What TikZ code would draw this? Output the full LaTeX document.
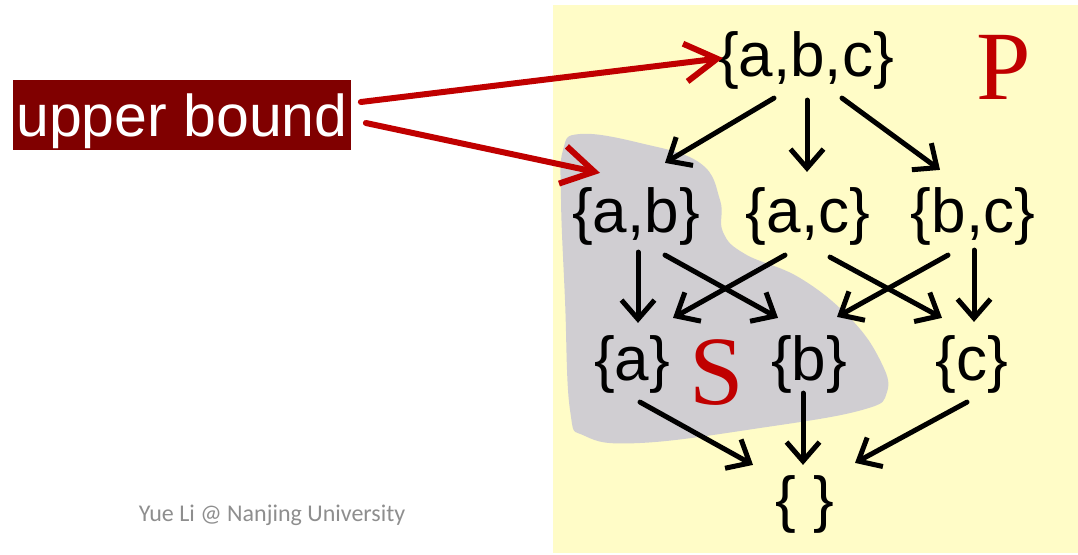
\documentclass[tikz,border=0pt]{standalone}
\usepackage{fontspec}
\setmainfont{Liberation Sans}
\newfontfamily\serifletter{Liberation Serif}
\newfontfamily\footerfont{Carlito}
\usetikzlibrary{arrows.meta}
\definecolor{pad}{HTML}{FFFCC7}
\definecolor{blob}{HTML}{D0CED2}
\definecolor{maroon}{HTML}{800000}
\definecolor{hot}{HTML}{C00000}
\definecolor{footgray}{HTML}{8E8E8E}

\begin{document}
\begin{tikzpicture}[x=1pt,y=-1pt,
  set/.style={inner sep=0pt,font=\fontsize{62}{70}\selectfont},
  edge/.style={line width=5pt,line cap=round,line join=round,-{Straight Barb[length=19pt,width=33pt]}},
  hint/.style={hot,line width=6pt,line cap=round,line join=round,-{Straight Barb[length=32pt,width=38pt]}},
  bigletter/.style={hot,inner sep=0pt,font=\serifletter\fontsize{98}{100}\selectfont}]
\useasboundingbox (0,0) rectangle (1078,554);
% poset P
\fill[pad] (553,5) rectangle (1078,553);
% subset S
\fill[blob] plot[smooth cycle,tension=0.7] coordinates {(563,150) (580,134) (640,143) (700,163)
  (720,200) (723,232) (745,254) (800,278) (850,318) (880,360) (887,392) (862,410)
  (760,428) (640,443) (585,436) (570,410) (565,300) (561,200)};
% lattice
\node[set] (abc) at (806,60) {\{a,b,c\}};
\node[set] (ab) at (636,216) {\{a,b\}};
\node[set] (ac) at (808,216) {\{a,c\}};
\node[set] (bc) at (973,216) {\{b,c\}};
\node[set] (a) at (632,364) {\{a\}};
\node[set] (b) at (809,364) {\{b\}};
\node[set] (c) at (972,364) {\{c\}};
\node[set] (e) at (805,504) {\{ \}};
\node[bigletter] (P) at (1004,67) {P};
\node[bigletter] (S) at (717,373) {S};
% order edges
\draw[edge] ([xshift=-32pt,yshift=-9pt]abc.south) -- ([xshift=29pt,yshift=24pt]ab.north);
\draw[edge] ([xshift=1pt,yshift=-11pt]abc.south) -- ([xshift=-1pt,yshift=15pt]ac.north);
\draw[edge] ([xshift=36pt,yshift=-9pt]abc.south) -- ([xshift=-33pt,yshift=17pt]bc.north);
\draw[edge] ([xshift=2pt,yshift=-7pt]ab.south) -- ([xshift=6pt,yshift=12pt]a.north);
\draw[edge] ([xshift=29pt,yshift=-10pt]ab.south) -- ([xshift=-31pt,yshift=17pt]b.north);
\draw[edge] ([xshift=-23pt,yshift=-10pt]ac.south) -- ([xshift=41pt,yshift=17pt]a.north);
\draw[edge] ([xshift=22pt,yshift=-12pt]ac.south) -- ([xshift=-30pt,yshift=17pt]c.north);
\draw[edge] ([xshift=-25pt,yshift=-10pt]bc.south) -- ([xshift=28pt,yshift=18pt]b.north);
\draw[edge] ([xshift=1pt,yshift=-5pt]bc.south) -- ([xshift=2pt,yshift=13pt]c.north);
\draw[edge] ([xshift=8pt,yshift=-9pt]a.south) -- ([xshift=-52pt,yshift=10pt]e.north);
\draw[edge] ([xshift=-6pt]b.south) -- ([xshift=-2pt,yshift=10pt]e.north);
\draw[edge] ([xshift=-5pt,yshift=-9pt]c.south) -- ([xshift=50pt,yshift=12pt]e.north);
% label and pointers
\node[fill=maroon,text=white,inner xsep=3pt,inner ysep=0pt,text height=56pt,text depth=14pt,
  font=\fontsize{59}{66}\selectfont] (ub) at (182,115) {upper bound};
\draw[hint] ([xshift=10pt,yshift=13pt]ub.east) -- ([xshift=5pt,yshift=2pt]abc.west);
\draw[hint] ([xshift=15pt,yshift=-8pt]ub.east) -- ([xshift=28pt,yshift=14pt]ab.north west);
\node[footgray,font=\footerfont\fontsize{24}{28}\selectfont] (credit) at (272,515) {Yue Li @ Nanjing University};
\end{tikzpicture}
\end{document}
